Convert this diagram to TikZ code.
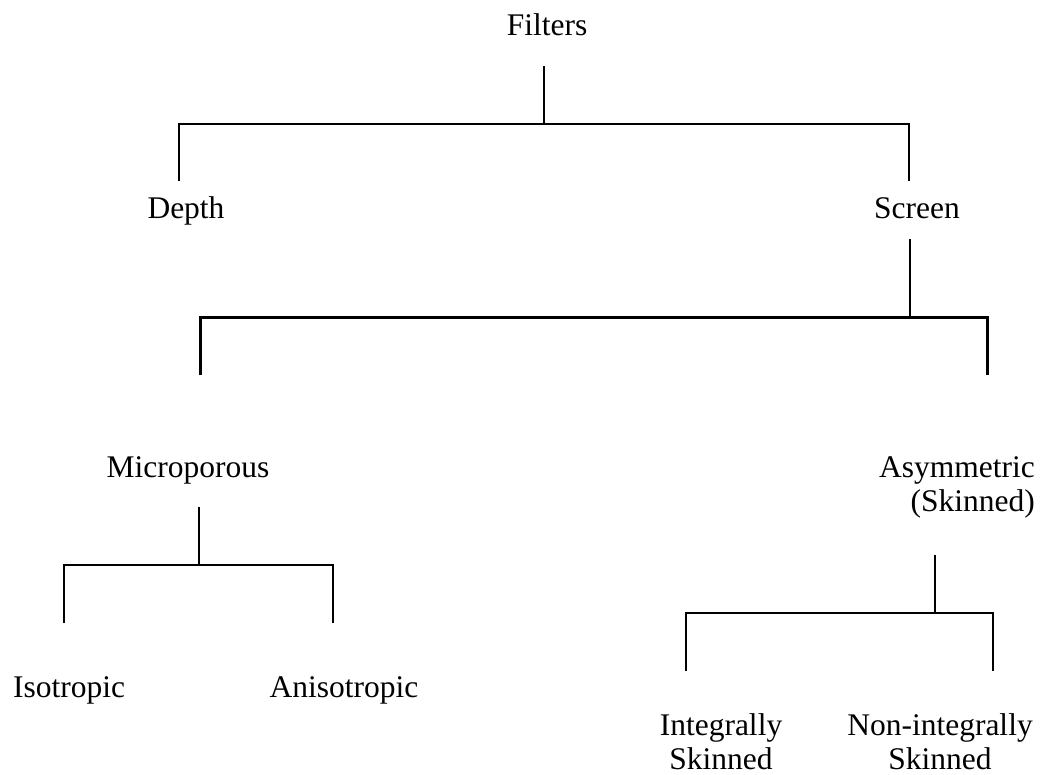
\documentclass[tikz,border=0pt]{standalone}
\usepackage{fontspec}
\setmainfont{Liberation Serif}
\begin{document}
\begin{tikzpicture}[x=1pt,y=-1pt,
  lbl/.style={font=\fontsize{31.5}{34}\selectfont, inner sep=0pt, anchor=base},
  br/.style={line width=2pt},
  brk/.style={line width=3pt}]
\useasboundingbox (0,0) rectangle (1046,774);
% labels
\node[lbl] (filters) at (547,35) {Filters};
\node[lbl] (depth) at (186,218) {Depth};
\node[lbl] (screen) at (917,218) {Screen};
\node[lbl] (micro) at (188,477) {Microporous};
\node[lbl, align=right, anchor=base east] (asym) at (1035,511) {Asymmetric\\(Skinned)};
\node[lbl] (iso) at (69,697) {Isotropic};
\node[lbl] (aniso) at (344,697) {Anisotropic};
\node[lbl, align=center] (integ) at (721,769) {Integrally\\Skinned};
\node[lbl, align=center] (noninteg) at (940,769) {Non-integrally\\Skinned};
% junction coordinates
\coordinate (fT) at (544,66);  \coordinate (fJ) at (544,124);
\coordinate (fL) at (179,181); \coordinate (fR) at (909,181);
\coordinate (sT) at (910,239); \coordinate (sJ) at (910,317);
\coordinate (sL) at (200,375); \coordinate (sR) at (987,375);
\coordinate (mT) at (199,507); \coordinate (mJ) at (199,565);
\coordinate (mL) at (64,623);  \coordinate (mR) at (333,623);
\coordinate (aT) at (935,555); \coordinate (aJ) at (935,613);
\coordinate (aL) at (686,671); \coordinate (aR) at (993,671);
% connectors
\draw[br] (fT) -- (fJ);
\draw[br] (fL) |- (fJ) -| (fR);
\draw[br] (sT) -- (sJ);
\draw[brk] (sL) |- (sJ) -| (sR);
\draw[br] (mT) -- (mJ);
\draw[br] (mL) |- (mJ) -| (mR);
\draw[br] (aT) -- (aJ);
\draw[br] (aL) |- (aJ) -| (aR);
\end{tikzpicture}
\end{document}
